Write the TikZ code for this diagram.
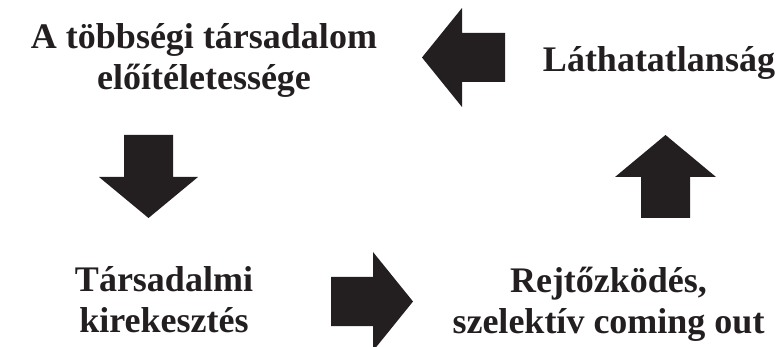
\documentclass[tikz,border=0pt]{standalone}
\usepackage{fontspec}
\setmainfont{Liberation Serif}
\usetikzlibrary{calc}
\definecolor{arrowblack}{HTML}{231F20}

\begin{document}
\begin{tikzpicture}[%
		x=1pt, y=-1pt,
		label/.style={font=\fontsize{36}{41}\selectfont\bfseries, text=arrowblack, align=center, inner sep=0pt, anchor=base},
		blockarrow/.style={fill=arrowblack, draw=none}
		]
		\useasboundingbox (0,0) rectangle (779,347);
		%%%%%%%%%%%%%%%
		%    NODES    %
		%%%%%%%%%%%%%%%
		% base anchor = baseline of the last line
		\node[label] (tobbseg) at (204, 90) {A többségi társadalom\\előítéletessége};
		\node[label] (lathat) at (659, 72) {Láthatatlanság};
		\node[label] (tarsad) at (164, 333) {Társadalmi\\kirekesztés};
		\node[label] (rejtoz) at (608.5, 334) {Rejtőzködés,\\szelektív coming out};
		
		%%%%%%%%%%%%%%%
		%   ARROWS    %
		%%%%%%%%%%%%%%%
		% left
		\fill[blockarrow] (422,57.5) -- (462,8) -- (462,33) -- (505,33) -- (505,82) -- (462,82) -- (462,107) -- cycle;
		% down
		\fill[blockarrow] (124,135) -- (173,135) -- (173,177) -- (198,177) -- (148.5,218) -- (99,177) -- (124,177) -- cycle;
		% right
		\fill[blockarrow] (331,277) -- (373,277) -- (373,252) -- (413,301.5) -- (373,351) -- (373,326) -- (331,326) -- cycle;
		% up
		\fill[blockarrow] (641,218) -- (641,177) -- (615,177) -- (665.5,135) -- (716,177) -- (690,177) -- (690,218) -- cycle;
	\end{tikzpicture}
\end{document}
